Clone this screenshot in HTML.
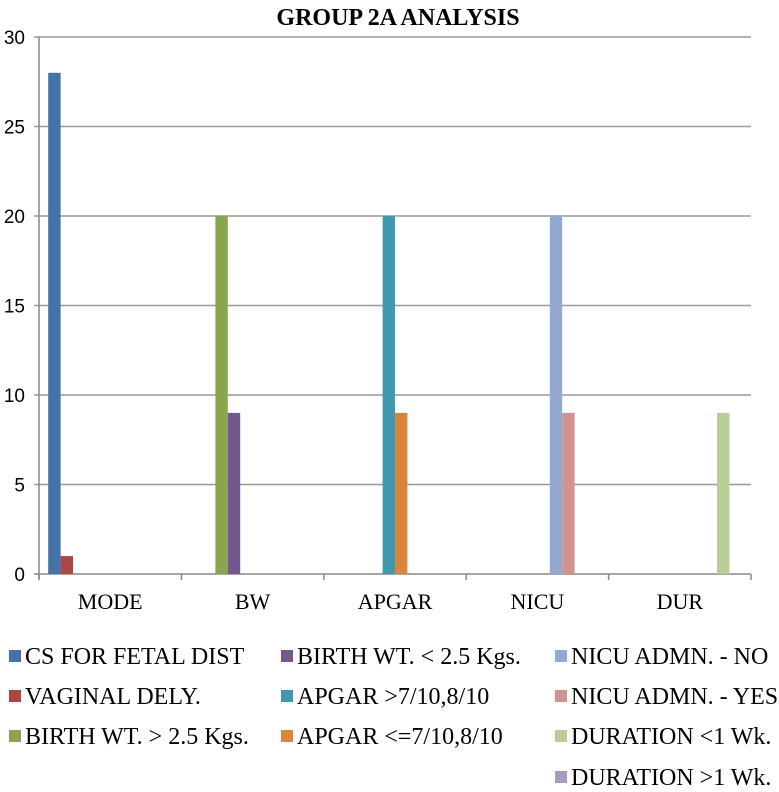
<!DOCTYPE html>
<html><head><meta charset="utf-8"><style>
body{margin:0;background:#fff;width:779px;height:792px;overflow:hidden}
svg{display:block}
.serif{font-family:"Liberation Serif",serif}
.sans{font-family:"Liberation Sans",sans-serif}
</style></head><body>
<svg id="chart" width="779" height="792" xmlns="http://www.w3.org/2000/svg">
<text x="398" y="25" text-anchor="middle" class="serif" font-weight="bold" font-size="24">GROUP 2A ANALYSIS</text>
<g id="grid"></g><g id="bars"></g><g id="axes"></g><g id="legend"></g>
</svg>
<script>
const categories = ["MODE","BW","APGAR","NICU","DUR"];
const seriesNames = ["CS FOR FETAL DIST","VAGINAL DELY.","BIRTH WT. > 2.5 Kgs.","BIRTH WT. < 2.5 Kgs.","APGAR >7/10,8/10","APGAR <=7/10,8/10","NICU ADMN. - NO","NICU ADMN. - YES","DURATION <1 Wk.","DURATION >1 Wk."];
const seriesColors = ["#4572a7","#aa4643","#89a54e","#71588f","#4198af","#db843d","#93a9cf","#d19392","#b9cd96","#a99bbd"];
const seriesCategory = [0,0,1,1,2,2,3,3,4,4];
const seriesValues = [28,1,20,9,20,9,20,9,9,0];
const yTicks = [0,5,10,15,20,25,30];

const NS="http://www.w3.org/2000/svg";
const L=39,R=751,T=37,B=574,yMax=30;
const catW=(R-L)/categories.length;
const barW=12.4;
const y=v=>B-(v/yMax)*(B-T);
function mk(tag,attrs,parent){const e=document.createElementNS(NS,tag);for(const k in attrs)e.setAttribute(k,attrs[k]);document.getElementById(parent).appendChild(e);return e;}

yTicks.forEach(t=>{
  const g=mk('line',{x1:L-5,x2:R,y1:y(t),y2:y(t),stroke:t===0?'#888':'#999','stroke-width':1.5},'grid');
  
  
  const lb=mk('text',{x:L-14,y:y(t)+7,'text-anchor':'end','class':'sans','font-size':19},'axes');
  lb.textContent=t;
  
  
});
const ya=mk('line',{x1:L,x2:L,y1:T,y2:B+5,stroke:'#888','stroke-width':1.5},'axes');


for(let i=0;i<=categories.length;i++){
  const tk=mk('line',{x1:L+i*catW,x2:L+i*catW,y1:B,y2:B+6,stroke:'#888','stroke-width':1.5},'axes');
  
  
}
categories.forEach((c,i)=>{
  const t=mk('text',{x:L+(i+0.5)*catW,y:609,'text-anchor':'middle','class':'serif','font-size':22},'axes');
  t.textContent=c;
  
  
});
const n=seriesNames.length;
const off=(catW-n*barW)/2;
seriesValues.forEach((v,s)=>{
  const c=seriesCategory[s];
  const x=L+c*catW+off+s*barW;
  const r=mk('rect',{x:x,y:y(v),width:barW,height:B-y(v),fill:seriesColors[s]},'bars');
  
  
});
const colX=[9,281,555], rowY=[664,704,744,785];
seriesNames.forEach((nm,i)=>{
  const col=i<3?0:(i<6?1:2);
  const row=i<3?i:(i<6?i-3:i-6);
  const g=mk('g',{},'legend');
  
  
  const sq=document.createElementNS(NS,'rect');
  sq.setAttribute('x',colX[col]);sq.setAttribute('y',rowY[row]-14);sq.setAttribute('width',12);sq.setAttribute('height',12);sq.setAttribute('fill',seriesColors[i]);
  g.appendChild(sq);
  const t=document.createElementNS(NS,'text');
  t.setAttribute('x',colX[col]+16);t.setAttribute('y',rowY[row]);
  t.setAttribute('class','serif');t.setAttribute('font-size',24);
  t.textContent=nm;g.appendChild(t);
});
</script>
</body></html>
